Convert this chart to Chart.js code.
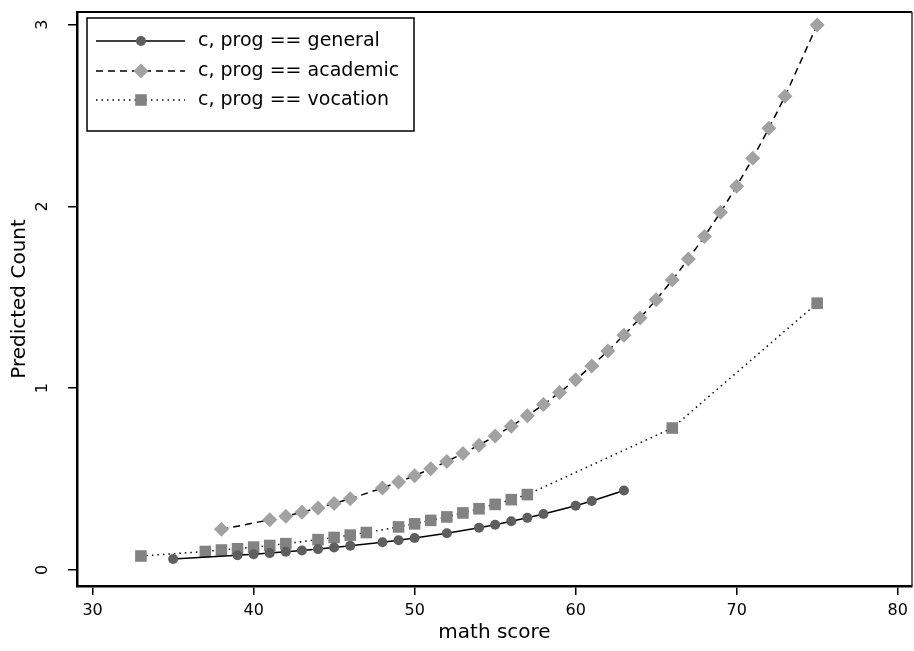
<!DOCTYPE html>
<html><head><meta charset="utf-8">
<script src="https://cdn.jsdelivr.net/npm/chart.js@4/dist/chart.umd.min.js"></script>
<style>html,body{margin:0;padding:0;background:#fff}#wrap{width:914px;height:651px;position:relative}</style>
</head><body><div id="wrap"><canvas id="c" width="914" height="651"></canvas></div>
<script>
// ---- data ----
const generalMath = [35, 39, 40, 41, 42, 43, 44, 45, 46, 48, 49, 50, 52, 54, 55, 56, 57, 58, 60, 61, 63];
const generalCount = [0.061, 0.081, 0.087, 0.093, 0.100, 0.107, 0.115, 0.124, 0.133, 0.153, 0.164, 0.176, 0.202, 0.233, 0.249, 0.268, 0.287, 0.308, 0.354, 0.380, 0.437];

const academicMath = [38, 41, 42, 43, 44, 45, 46, 48, 49, 50, 51, 52, 53, 54, 55, 56, 57, 58, 59, 60, 61, 62, 63, 64, 65, 66, 67, 68, 69, 70, 71, 72, 73, 75];
const academicCount = [0.224, 0.276, 0.296, 0.318, 0.341, 0.366, 0.392, 0.451, 0.484, 0.519, 0.557, 0.597, 0.641, 0.687, 0.737, 0.791, 0.848, 0.910, 0.976, 1.047, 1.123, 1.205, 1.292, 1.386, 1.487, 1.595, 1.711, 1.835, 1.968, 2.112, 2.265, 2.430, 2.606, 2.999];

const vocationMath = [33, 37, 38, 39, 40, 41, 42, 44, 45, 46, 47, 49, 50, 51, 52, 53, 54, 55, 56, 57, 66, 75];
const vocationCount = [0.077, 0.102, 0.110, 0.117, 0.126, 0.135, 0.145, 0.167, 0.179, 0.192, 0.206, 0.237, 0.254, 0.273, 0.292, 0.314, 0.337, 0.361, 0.387, 0.415, 0.781, 1.468];

const seriesLabels = ["c, prog == general", "c, prog == academic", "c, prog == vocation"];
const xTicks = [30, 40, 50, 60, 70, 80];
const yTicks = [0, 1, 2, 3];
const xTitle = "math score";
const yTitle = "Predicted Count";

const pts = (xs, ys) => xs.map((x, i) => ({x: x, y: ys[i]}));

const FONT = "'DejaVu Sans', Verdana, sans-serif";
const RIGHT_GAP = 2;

// keep the plot region reaching the right edge of the canvas like the reference
const fullWidth = {
  id: 'fullWidth',
  afterLayout(chart) {
    const a = chart.chartArea;
    const r = chart.width - RIGHT_GAP;
    if (Math.abs(a.right - r) > 0.5) {
      a.right = r;
      a.width = a.right - a.left;
      const xs = chart.scales.x;
      xs.right = r;
      xs.width = xs.right - xs.left;
      xs.configure();
      const ys = chart.scales.y;
      ys.configure();
    }
  }
};

const legendBox = {
  id: 'legendBox',
  afterDatasetsDraw(chart) {
    const ctx = chart.ctx, a = chart.chartArea;
    const bx = a.left + 10, by = a.top + 6, bw = 327, bh = 113;
    ctx.save();
    ctx.fillStyle = '#fff';
    ctx.fillRect(bx, by, bw, bh);
    ctx.strokeStyle = '#000';
    ctx.lineWidth = 1.5;
    ctx.strokeRect(bx, by, bw, bh);
    const rows = [23, 53, 82];
    chart.data.datasets.forEach((ds, i) => {
      const y = by + rows[i];
      ctx.save();
      ctx.strokeStyle = ds.borderColor;
      ctx.lineWidth = ds.borderWidth;
      ctx.setLineDash(ds.borderDash || []);
      ctx.beginPath();
      ctx.moveTo(bx + 9, y);
      ctx.lineTo(bx + 98, y);
      ctx.stroke();
      ctx.restore();
      ctx.fillStyle = ds.pointBackgroundColor;
      ctx.strokeStyle = ds.pointBackgroundColor;
      Chart.helpers.drawPoint(ctx, {
        pointStyle: ds.pointStyle, radius: ds.pointRadius, borderWidth: 0, rotation: 0
      }, bx + 54, y);
      ctx.fillStyle = '#000';
      ctx.font = "19px " + FONT;
      ctx.textBaseline = 'middle';
      ctx.textAlign = 'left';
      ctx.fillText(ds.label, bx + 111, y);
    });
    ctx.restore();
  }
};

const frame = {
  id: 'frame',
  beforeDatasetsDraw(chart) {
    const ctx = chart.ctx, a = chart.chartArea;
    ctx.save();
    ctx.strokeStyle = '#000';
    ctx.lineWidth = 2;
    ctx.beginPath();
    ctx.moveTo(a.left, a.top);
    ctx.lineTo(a.right, a.top);
    ctx.stroke();
    ctx.strokeStyle = '#333';
    ctx.lineWidth = 1.5;
    ctx.beginPath();
    ctx.moveTo(a.right, a.top);
    ctx.lineTo(a.right, a.bottom);
    ctx.stroke();
    ctx.restore();
  }
};

new Chart(document.getElementById('c'), {
  type: 'scatter',
  data: {
    datasets: [
      {
        label: seriesLabels[0], data: pts(generalMath, generalCount), showLine: true,
        borderColor: '#000', borderWidth: 1.5,
        pointStyle: 'circle', pointRadius: 5, pointBackgroundColor: '#5e5e5e', pointBorderWidth: 0,
        pointBorderColor: '#5e5e5e'
      },
      {
        label: seriesLabels[1], data: pts(academicMath, academicCount), showLine: true,
        borderColor: '#000', borderWidth: 1.5, borderDash: [7, 5],
        pointStyle: 'rectRot', pointRadius: 7.5, pointBackgroundColor: '#a2a2a2', pointBorderWidth: 0,
        pointBorderColor: '#a2a2a2'
      },
      {
        label: seriesLabels[2], data: pts(vocationMath, vocationCount), showLine: true,
        borderColor: '#000', borderWidth: 1.5, borderDash: [1.5, 4],
        pointStyle: 'rect', pointRadius: 8.2, pointBackgroundColor: '#828282', pointBorderWidth: 0,
        pointBorderColor: '#828282'
      }
    ]
  },
  options: {
    responsive: false,
    animation: false,
    devicePixelRatio: 1,
    layout: { padding: { left: 0, right: RIGHT_GAP, top: 12, bottom: 0 } },
    plugins: { legend: { display: false }, tooltip: { enabled: false } },
    scales: {
      x: {
        type: 'linear', min: 29.03, max: 80.89,
        afterBuildTicks: s => { s.ticks = xTicks.map(v => ({value: v})); },
        afterFit: s => { s.height = 65; s.paddingLeft = 0; s.paddingRight = 0; },
        grid: { display: true, drawOnChartArea: false, drawTicks: true, tickLength: 9, color: '#000', lineWidth: 1.5 },
        border: { display: true, color: '#000', width: 2.5 },
        ticks: { color: '#000', font: { family: FONT, size: 16 }, padding: 6, maxRotation: 0, autoSkip: false },
        title: { display: true, text: xTitle, color: '#000', font: { family: FONT, size: 20 }, padding: { top: 0, bottom: 6 } }
      },
      y: {
        type: 'linear', min: -0.088, max: 3.07,
        afterBuildTicks: s => { s.ticks = yTicks.map(v => ({value: v})); },
        afterFit: s => { s.width = 77; s.paddingTop = 0; s.paddingBottom = 0; },
        grid: { display: true, drawOnChartArea: false, drawTicks: true, tickLength: 9, color: '#000', lineWidth: 1.5 },
        border: { display: true, color: '#000', width: 2.5 },
        ticks: { color: '#000', font: { family: FONT, size: 16 }, padding: 20, minRotation: 90, maxRotation: 90, crossAlign: 'center', autoSkip: false },
        title: { display: true, text: yTitle, color: '#000', font: { family: FONT, size: 20 }, padding: { top: 8, bottom: 0 } }
      }
    }
  },
  plugins: [fullWidth, frame, legendBox]
});
</script>
</body></html>
